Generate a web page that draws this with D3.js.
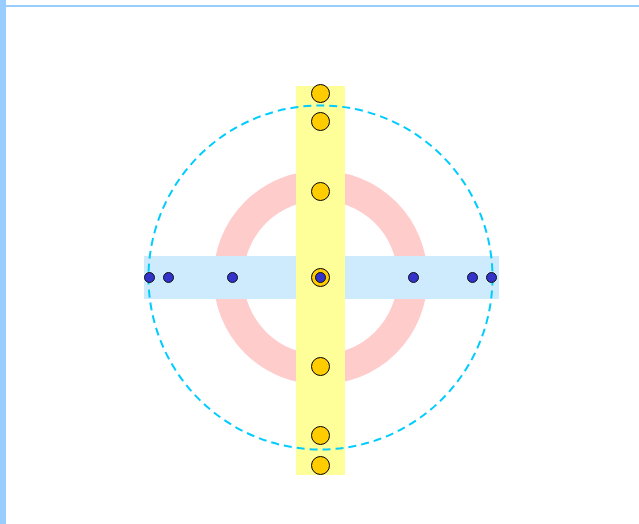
<!DOCTYPE html>
<html>
<head>
<meta charset="utf-8">
<script src="https://cdn.jsdelivr.net/npm/d3@7"></script>
<style>
  html, body { margin: 0; padding: 0; background: #fff; }
  svg { display: block; }
</style>
</head>
<body>
<div id="chart"></div>
<script>
// point positions along each axis (chart units, 0 = centre)
const horizontalValues = [-171, -152, -88, 0, 93, 152, 171];
const verticalValues = [-184, -156, -86, 0, 89, 158, 188];

const width = 639,
    height = 524,
    cx = 320.5,
    cy = 277.5;

const svg = d3.select("#chart")
    .append("svg")
    .attr("width", width)
    .attr("height", height);

const x = d3.scaleLinear()
    .domain([-200, 200])
    .range([cx - 200, cx + 200]);

const y = d3.scaleLinear()
    .domain([-200, 200])
    .range([cy - 200, cy + 200]);

// frame lines
svg.append("rect")
    .attr("x", 0).attr("y", 0)
    .attr("width", 6).attr("height", height)
    .attr("fill", "#99ccff");

svg.append("rect")
    .attr("x", 6).attr("y", 5)
    .attr("width", width - 6).attr("height", 2)
    .attr("fill", "#99ccff");

// pink ring
svg.append("circle")
    .attr("cx", x(0)).attr("cy", y(0))
    .attr("r", 92)
    .attr("fill", "none")
    .attr("stroke", "#ffcccc")
    .attr("stroke-width", 30);

// horizontal band
svg.append("rect")
    .attr("x", x(-176.5))
    .attr("y", y(-21.5))
    .attr("width", x(178.5) - x(-176.5))
    .attr("height", y(21.5) - y(-21.5))
    .attr("fill", "#cdebfd");

// vertical band
svg.append("rect")
    .attr("x", x(-24.5))
    .attr("y", y(-191.5))
    .attr("width", x(24.5) - x(-24.5))
    .attr("height", y(197.5) - y(-191.5))
    .attr("fill", "#ffff99");

// dashed circle
svg.append("circle")
    .attr("cx", x(0)).attr("cy", y(0))
    .attr("r", 172)
    .attr("fill", "none")
    .attr("stroke", "#00ccff")
    .attr("stroke-width", 2)
    .attr("stroke-dasharray", "8,5");

svg.selectAll(".vpoint")
    .data(verticalValues)
    .enter()
    .append("circle")
    .attr("class", "vpoint")
    .attr("cx", x(0))
    .attr("cy", d => y(d))
    .attr("r", 9)
    .attr("fill", "#ffcc00")
    .attr("stroke", "#000")
    .attr("stroke-width", 1);

svg.selectAll(".hpoint")
    .data(horizontalValues)
    .enter()
    .append("circle")
    .attr("class", "hpoint")
    .attr("cx", d => x(d))
    .attr("cy", y(0))
    .attr("r", 5)
    .attr("fill", "#3333cc")
    .attr("stroke", "#111")
    .attr("stroke-width", 1);
</script>
</body>
</html>
